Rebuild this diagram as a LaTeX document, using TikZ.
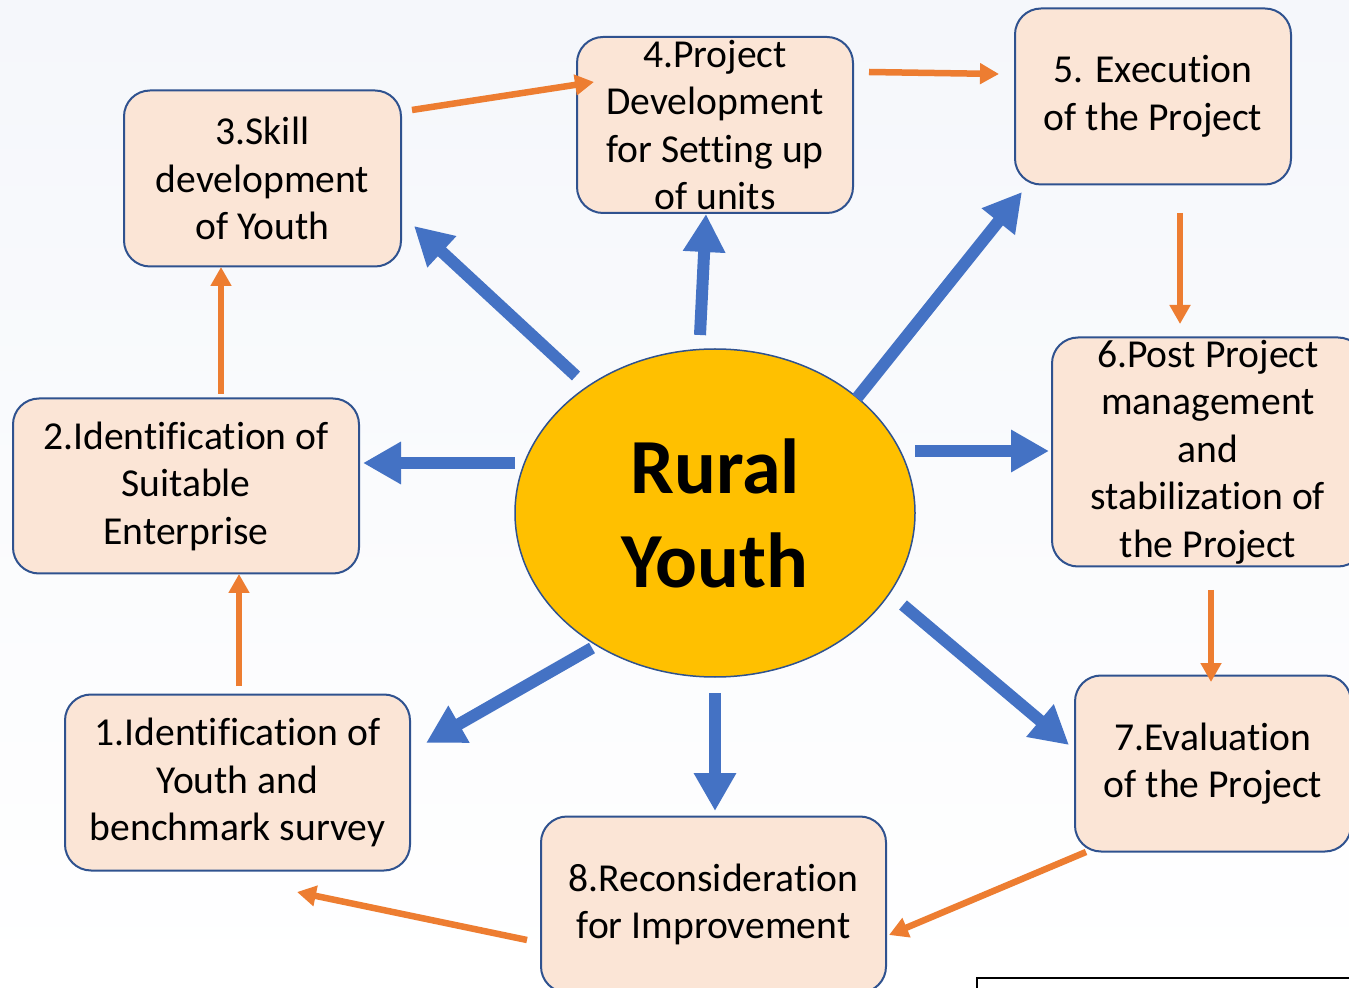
\documentclass[tikz,border=0pt]{standalone}
\usepackage{fontspec}
\setmainfont{Carlito}[Ligatures=CommonOff]
\usetikzlibrary{arrows.meta, shapes.geometric, calc}
\definecolor{boxfill}{RGB}{251,229,214}
\definecolor{boxline}{RGB}{47,82,143}
\definecolor{coreyellow}{RGB}{255,192,0}
\definecolor{spokeblue}{RGB}{68,114,196}
\definecolor{flowor}{RGB}{237,125,49}
\definecolor{bgtop}{RGB}{245,247,251}

\begin{document}
\begin{tikzpicture}[x=0.5pt, y=-0.5pt,
	stage/.style={draw=boxline, line width=1pt, fill=boxfill, rounded corners=13pt, inner sep=0pt, align=center, font=\fontsize{19.8}{23.75}\selectfont},
	spoke/.style={-{Triangle[length=19pt,width=20pt]}, line width=6pt, spokeblue},
	flow/.style={-{Triangle[length=9.5pt,width=10pt]}, line width=3.25pt, flowor}]
		\clip (0,0) rectangle (1349,988);
		\shade[top color=bgtop, bottom color=white] (0,0) rectangle (1349,988);

		\node[stage, minimum width=172.5pt, minimum height=88pt] (s1) at (237.5,782.5) {1.Identification of\\Youth and\\benchmark survey};
		\node[stage, minimum width=173pt, minimum height=87.5pt] (s2) at (186,486) {2.Identification of\\Suitable\\Enterprise};
		\node[stage, minimum width=138.5pt, minimum height=88pt] (s3) at (262.5,178.5) {3.Skill\\development\\of Youth};
		\node[stage, minimum width=138pt, minimum height=88pt] (s4) at (715,125) {4.Project\\Development\\for Setting up\\of units};
		\node[stage, minimum width=138pt, minimum height=88pt] (s5) at (1153,96.5) {5. Execution\\of the Project};
		\node[stage, minimum width=156pt, minimum height=114.5pt] (s6) at (1208,452) {6.Post Project\\management\\and\\stabilization of\\the Project};
		\node[stage, minimum width=138pt, minimum height=88pt] (s7) at (1213,763.5) {7.Evaluation\\of the Project};
		\node[stage, minimum width=172.5pt, minimum height=88pt] (s8) at (713.5,904.5) {8.Reconsideration\\for Improvement};

		\node[ellipse, draw=boxline, line width=0.75pt, fill=coreyellow, minimum width=200pt, minimum height=164pt, inner sep=0pt, align=center, font=\bfseries\fontsize{39}{47}\selectfont] (ry) at (715,513) {Rural\\Youth};

		\draw[spoke] ($(ry)+(-200,-50)$) -- ($(s2.east)+(3,-23)$);
		\draw[spoke] ($(ry)+(-139,-137)$) -- ($(s3.south east)+(12,-41.5)$);
		\draw[spoke] ($(ry)+(-15,-178)$) -- ($(s4.south)+(-9,0)$);
		\draw[spoke] ($(ry)+(142,-115)$) -- ($(s5.south west)+(8,6.5)$);
		\draw[spoke] ($(ry)+(200,-62)$) -- ($(s6.west)+(-2,-1)$);
		\draw[spoke] ($(ry)+(188,92)$) -- ($(s7.west)+(-5,-18.5)$);
		\draw[spoke] ($(ry)+(0,180)$) -- ($(s8.north)+(1.5,-4.5)$);
		\draw[spoke] ($(ry)+(-123,135)$) -- ($(s1.north east)+(15,49.5)$);

		\draw[flow] ($(s1.north)+(1.5,-7.5)$) -- ($(s2.south)+(53,-0.5)$);
		\draw[flow] ($(s2.north)+(35,-3.5)$) -- ($(s3.south)+(-41.5,-0.5)$);
		\draw[flow] ($(s3.east)+(10,-68.5)$) -- ($(s4.west)+(18,-43)$);
		\draw[flow] ($(s4.east)+(15,-53)$) -- ($(s5.west)+(-15,-22.5)$);
		\draw[flow] ($(s5.south)+(27,27.5)$) -- ($(s6.north)+(-28,-12.5)$);
		\draw[flow] ($(s6.south)+(3,22.5)$) -- ($(s7.north)+(-2,7.5)$);
		\draw[flow] ($(s7.south west)+(12,-0.5)$) -- ($(s8.east)+(2,30.5)$);
		\draw[flow] ($(s8.west)+(-13,35.5)$) -- ($(s1.south)+(59.5,20.5)$);

		\draw[line width=1pt] (977,978) rectangle (1400,1100);
	\end{tikzpicture}
\end{document}
